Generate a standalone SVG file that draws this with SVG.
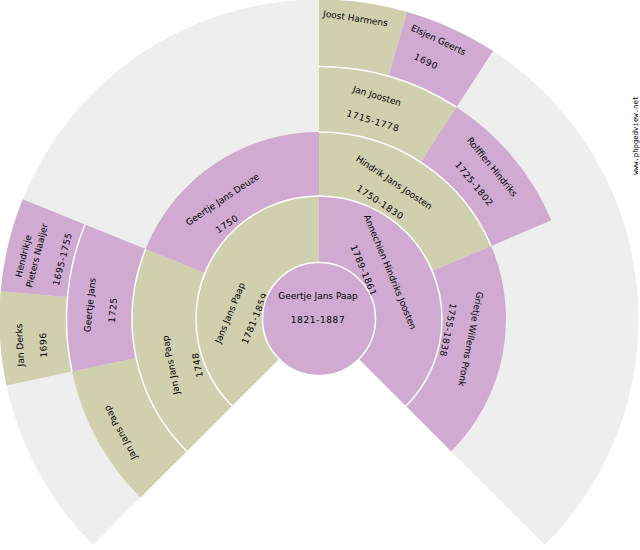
<svg xmlns="http://www.w3.org/2000/svg" width="640" height="550" viewBox="0 0 640 550">
<style>
.m{fill:#d0d0af}
.f{fill:#d0aad0}
.bg{fill:#eeeeee}
text{font-family:"DejaVu Sans","Liberation Sans",sans-serif;font-size:9px;fill:#000;text-anchor:middle}
.d{letter-spacing:0.6px}
.wm{font-family:"DejaVu Sans Mono","Liberation Mono",monospace;font-size:7.3px}
.sep{fill:none;stroke:#fff;stroke-width:1.5}
</style>
<rect width="640" height="550" fill="#fff"/>
<path class="bg" d="M319,319 L93.08,544.92 A319.5,319.5 0 1 1 544.92,544.92 Z"/>

<g id="n2">
<path class="m" d="M232.03,405.97 A123,123 0 0 1 319,196 L319,262.5 A56.5,56.5 0 0 0 279.05,358.95 Z"/>
<text transform="translate(230,313) rotate(-67.5)" y="3">Jans Jans Paap</text>
<text class="d" transform="translate(255,318.5) rotate(-67.5)" y="3">1781-1859</text>
</g>
<g id="n3">
<path class="f" d="M319,196 A123,123 0 0 1 405.97,405.97 L358.95,358.95 A56.5,56.5 0 0 0 319,262.5 Z"/>
<text transform="translate(390,272) rotate(67.5)" y="3">Annechien Hindriks Joosten</text>
<text class="d" transform="translate(363.5,270.5) rotate(67.5)" y="3">1789-1861</text>
</g>

<g id="n4">
<path class="m" d="M186.77,451.23 A187,187 0 0 1 145.62,248.95 L204.96,272.92 A123,123 0 0 0 232.03,405.97 Z"/>
<text transform="translate(171,365) rotate(-101.25)" y="3">Jan Jans Paap</text>
<text class="d" transform="translate(197.5,365) rotate(-101.25)" y="3">1748</text>
</g>
<g id="n5">
<path class="f" d="M145.62,248.95 A187,187 0 0 1 319,132 L319,196 A123,123 0 0 0 204.96,272.92 Z"/>
<text transform="translate(222.5,199.5) rotate(-33.75)" y="3">Geertje Jans Deuze</text>
<text class="d" transform="translate(227,224) rotate(-33.75)" y="3">1750</text>
</g>
<g id="n6">
<path class="m" d="M319,132 A187,187 0 0 1 491.13,245.93 L432.22,270.94 A123,123 0 0 0 319,196 Z"/>
<text transform="translate(394,182.5) rotate(33.75)" y="3">Hindrik Jans Joosten</text>
<text class="d" transform="translate(380,202.5) rotate(33.75)" y="3">1750-1830</text>
</g>
<g id="n7">
<path class="f" d="M491.13,245.93 A187,187 0 0 1 451.23,451.23 L405.97,405.97 A123,123 0 0 0 432.22,270.94 Z"/>
<text transform="translate(470.5,339) rotate(101.25)" y="3">Grietje Willems Pronk</text>
<text class="d" transform="translate(448,330) rotate(101.25)" y="3">1755-1838</text>
</g>

<g id="n8">
<path class="m" d="M140.46,497.54 A252.5,252.5 0 0 1 72.02,371.5 L136.09,357.88 A187,187 0 0 0 186.77,451.23 Z"/>
<text transform="translate(120.5,432.5) rotate(-118.125)" y="3">Jan Jans Paap</text>
</g>
<g id="n9">
<path class="f" d="M72.02,371.5 A252.5,252.5 0 0 1 84.89,224.41 L145.62,248.95 A187,187 0 0 0 136.09,357.88 Z"/>
<text transform="translate(90,305) rotate(-84.375)" y="3">Geertje Jans</text>
<text class="d" transform="translate(113,310) rotate(-84.375)" y="3">1725</text>
</g>
<g id="n12">
<path class="m" d="M319,66.5 A252.5,252.5 0 0 1 456.52,107.24 L420.85,162.17 A187,187 0 0 0 319,132 Z"/>
<text transform="translate(377,96) rotate(16.875)" y="3">Jan Joosten</text>
<text class="d" transform="translate(373,121) rotate(16.875)" y="3">1715-1778</text>
</g>
<g id="n13">
<path class="f" d="M456.52,107.24 A252.5,252.5 0 0 1 551.43,220.34 L491.13,245.93 A187,187 0 0 0 420.85,162.17 Z"/>
<text transform="translate(492,167) rotate(50.625)" y="3">Rolffien Hindriks</text>
<text class="d" transform="translate(474,184) rotate(50.625)" y="3">1725-1802</text>
</g>

<g id="n18">
<path class="m" d="M6.48,385.43 A319.5,319.5 0 0 1 0.72,291.15 L67.46,296.99 A252.5,252.5 0 0 0 72.02,371.5 Z"/>
<text transform="translate(20,345) rotate(-92.8)" y="3">Jan Derks</text>
<text class="d" transform="translate(43.5,345) rotate(-92.8)" y="3">1696</text>
</g>
<g id="n19">
<path class="f" d="M0.72,291.15 A319.5,319.5 0 0 1 22.76,199.31 L84.89,224.41 A252.5,252.5 0 0 0 67.46,296.99 Z"/>
<text transform="translate(23.5,256) rotate(-75.94)" y="3">Hendrikje</text>
<text transform="translate(37,255.5) rotate(-75.94)" y="3">Pieters Naaljer</text>
<text class="d" transform="translate(62.5,259) rotate(-75.94)" y="3">1695-1755</text>
</g>
<g id="n24">
<path class="m" d="M319,-0.5 A319.5,319.5 0 0 1 407.07,11.88 L388.6,76.28 A252.5,252.5 0 0 0 319,66.5 Z"/>
<text transform="translate(355.5,18.5) rotate(8.44)" y="3">Joost Harmens</text>
</g>
<g id="n25">
<path class="f" d="M407.07,11.88 A319.5,319.5 0 0 1 493.01,51.05 L456.52,107.24 A252.5,252.5 0 0 0 388.6,76.28 Z"/>
<text transform="translate(438.5,40) rotate(25.31)" y="3">Elsjen Geerts</text>
<text class="d" transform="translate(426,61.5) rotate(25.31)" y="3">1690</text>
</g>

<g id="separators">
<path class="sep" d="M232.03,405.97 A123,123 0 1 1 405.97,405.97"/>
<path class="sep" d="M186.77,451.23 A187,187 0 0 1 145.62,248.95"/>
<path class="sep" d="M319,132 A187,187 0 0 1 491.13,245.93"/>
<path class="sep" d="M72.02,371.5 A252.5,252.5 0 0 1 84.89,224.41"/>
<path class="sep" d="M319,66.5 A252.5,252.5 0 0 1 456.52,107.24"/>
</g>

<g id="n1">
<circle class="f" cx="319" cy="319" r="56.5" stroke="#fff" stroke-width="1.5"/>
<text x="318" y="299">Geertje Jans Paap</text>
<text class="d" x="318" y="323">1821-1887</text>
</g>

<text class="wm" transform="translate(635.5,135.3) rotate(-90)" y="2.5">www.phpgedview.net</text>
</svg>
